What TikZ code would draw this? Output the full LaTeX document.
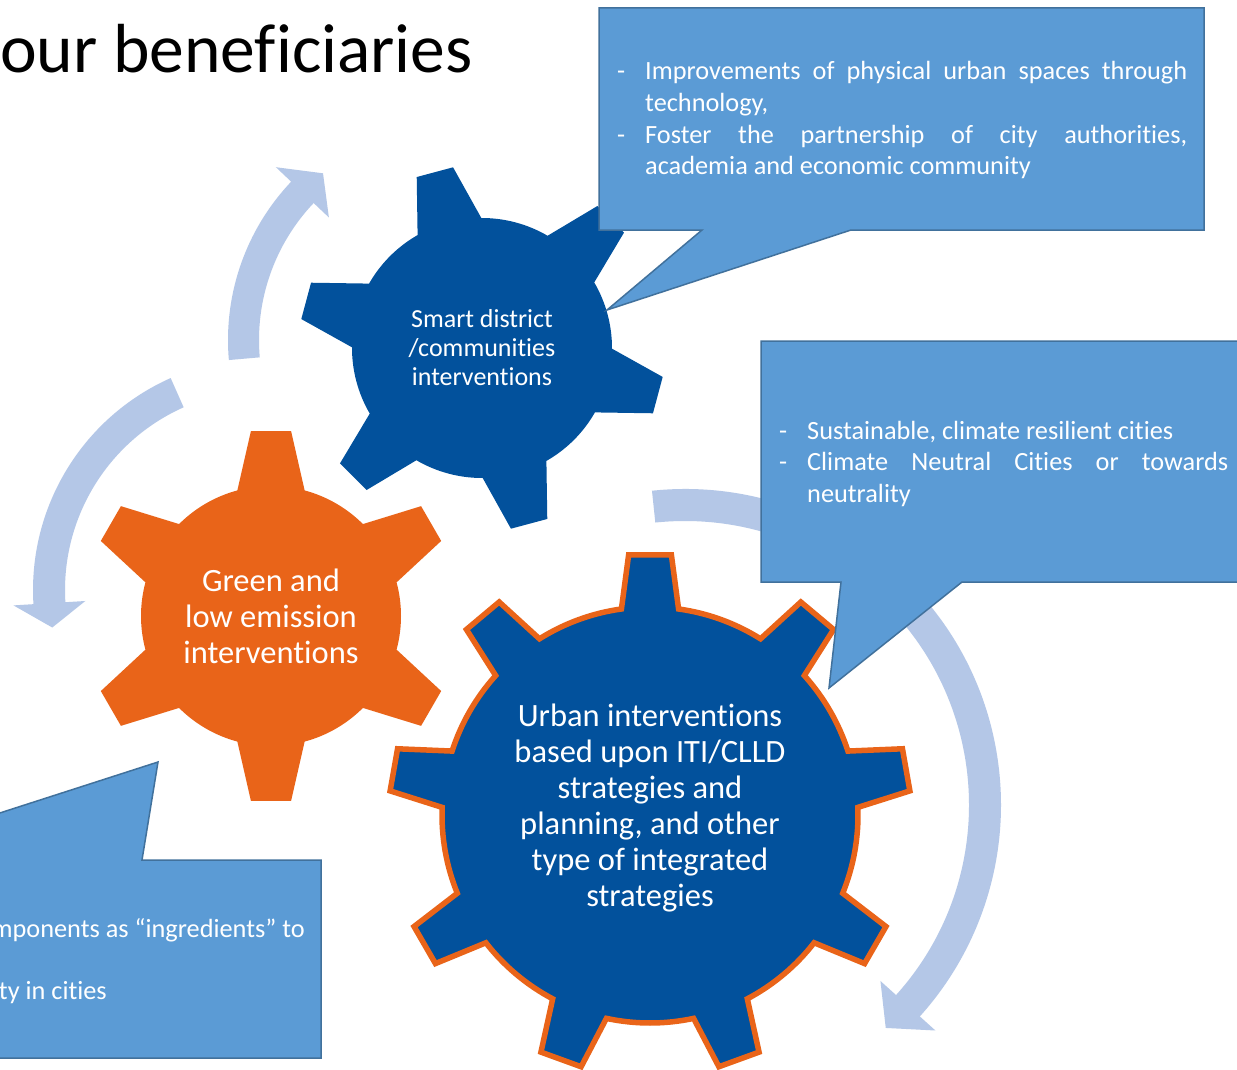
\documentclass[tikz,border=0pt]{standalone}
\usepackage{fontspec}
\setmainfont{Carlito}[Ligatures={NoCommon}]
\usetikzlibrary{positioning}
\definecolor{gearblue}{RGB}{2,81,156}
\definecolor{gearorange}{RGB}{233,100,25}
\definecolor{calloutfill}{RGB}{91,155,213}
\definecolor{calloutline}{RGB}{65,113,156}
\definecolor{cyclefill}{RGB}{180,199,231}
\tikzstyle{callout} = [fill=calloutfill, draw=calloutline, line width=1.5pt, line join=miter]
\tikzstyle{cyclearrow} = [fill=cyclefill]
\tikzstyle{geartext} = [text=white, align=center, inner sep=0pt]
\tikzstyle{notetext} = [text=white, inner sep=0pt, font=\fontsize{26.3}{31.6}\selectfont]
\newcommand{\dashitem}{\hangindent=28pt\hangafter=1\noindent\makebox[28pt][l]{-}}
\newenvironment{notebox}[1]{\begin{minipage}[t]{#1}\hyphenpenalty=10000\relax\tolerance=10000\relax}{\end{minipage}}
% gear: style, centre, body radius, tip radius, teeth, phase, base half angle, tip half angle
\newcommand{\gear}[8]{%
  \pgfmathsetmacro{\gstep}{360/#5}
  \begin{scope}[shift={#2}, yscale=-1]
    \path[#1] ({#6-#7}:#3)
      \foreach \k in {1,...,#5}{
        -- ({#6+(\k-1)*\gstep-#7}:#3) -- ({#6+(\k-1)*\gstep-#8}:#4)
        -- ({#6+(\k-1)*\gstep+#8}:#4) -- ({#6+(\k-1)*\gstep+#7}:#3)
        arc[start angle={#6+(\k-1)*\gstep+#7}, end angle={#6+\k*\gstep-#7}, radius=#3]
      } -- cycle;
  \end{scope}}
% circular arrow: centre, inner radius, outer radius, start, end, tip angle, head overhang
\newcommand{\cycarrow}[7]{%
  \begin{scope}[shift={#1}, yscale=-1]
    \fill[cyclearrow] ({#4}:#3) arc[start angle=#4, end angle=#5, radius=#3]
      -- ({#5}:{#3+#7}) -- ({#6}:{(#2+#3)/2}) -- ({#5}:{#2-#7})
      -- ({#5}:#2) arc[start angle=#5, end angle=#4, radius=#2] -- cycle;
  \end{scope}}

\begin{document}
\begin{tikzpicture}[x=1pt, y=-1pt]
    \fill[white] (0,0) rectangle (1237,1070);
    \useasboundingbox (0,0) rectangle (1237,1070);

    \cycarrow{(458,340)}{199}{230}{185}{136.5}{129}{21}
    \cycarrow{(265,590)}{200}{232}{114}{183.5}{190}{20}
    \cycarrow{(685,805)}{284}{316}{96}{-42}{-48}{21}

    \gear{fill=gearblue}{(482,348)}{130}{183}{6}{105}{14.7}{5.9}
    \gear{fill=gearorange}{(271,616)}{130}{186}{6}{90}{15}{6.2}
    \gear{fill=gearblue, draw=gearorange, line width=5.5pt, line join=miter}{(650,815)}{208}{261}{9}{90}{7.9}{4.7}

    \node[geartext, font=\fontsize{26}{29}\selectfont] (smart) at (482,348) {Smart district\\/communities\\interventions};
    \node[geartext, font=\fontsize{32.5}{36}\selectfont] (green) at (271,616) {Green and\\low emission\\interventions};
    \node[geartext, font=\fontsize{32.5}{36}\selectfont] (urban) at (650,808) {Urban interventions\\based upon ITI/CLLD\\strategies and\\planning, and other\\type of integrated\\strategies};

    \draw[callout] (599,8) -- (1204,8) -- (1204,230) -- (851,230) -- (607,310) -- (702,230) -- (599,230) -- cycle;
    \draw[callout] (761,341) -- (1250,341) -- (1250,582) -- (962,582) -- (829,688) -- (841,582) -- (761,582) -- cycle;
    \draw[callout] (-200,860) -- (-146,860) -- (158,762) -- (142,860) -- (321,860) -- (321,1058) -- (-200,1058) -- cycle;

    \node[notetext, anchor=base west] (tech) at (617,80) {\begin{notebox}{570pt}\dashitem Improvements of physical urban spaces through technology,\par\dashitem Foster the partnership of city authorities,\linebreak academia and economic community\end{notebox}};
    \node[notetext, anchor=base west] (climate) at (779,439) {\begin{notebox}{449pt}\dashitem Sustainable, climate resilient cities\par\dashitem Climate Neutral Cities or towards neutrality\end{notebox}};
    \node[notetext, anchor=base east] (ingr) at (305,937) {mponents as “ingredients” to};
    \node[notetext, anchor=base east] (cities) at (107,999) {ty in cities};

    \node[anchor=base west, inner sep=0pt, font=\fontsize{69.5}{80}\selectfont] (title) at (0,73) {our beneficiaries};
\end{tikzpicture}
\end{document}
